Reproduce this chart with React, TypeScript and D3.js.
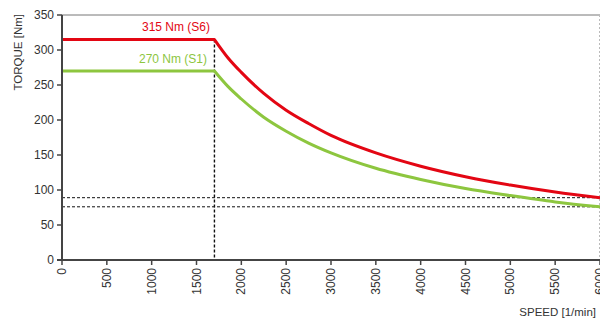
import React from "react";
import * as d3 from "d3";

// values
const speedS6 = [0, 1700, 1850, 2000, 2250, 2500, 2750, 3000, 3500, 4000, 4500, 5000, 5500, 6000];
const torqueS6 = [315, 315, 289, 268, 238, 214, 195, 178, 153, 134, 119, 107, 97, 89];
const speedS1 = [0, 1700, 1850, 2000, 2250, 2500, 2750, 3000, 3500, 4000, 4500, 5000, 5500, 6000];
const torqueS1 = [270, 270, 248, 230, 204, 184, 167, 153, 131, 115, 102, 92, 83, 76];
const xTicks = [0, 500, 1000, 1500, 2000, 2500, 3000, 3500, 4000, 4500, 5000, 5500, 6000];
const yTicks = [0, 50, 100, 150, 200, 250, 300, 350];
const cornerSpeed = 1700;
const refLevels = [89, 76];

const W = 600;
const H = 318;
const m = { left: 62, right: 0, top: 15, bottom: 58 };

export default function App() {
  const x = d3.scaleLinear().domain([0, 6000]).range([m.left, W - m.right]);
  const y = d3.scaleLinear().domain([0, 350]).range([H - m.bottom, m.top]);

  const flat = d3
    .line<[number, number]>()
    .x((d) => x(d[0]))
    .y((d) => y(d[1]));
  const curve = d3
    .line<[number, number]>()
    .x((d) => x(d[0]))
    .y((d) => y(d[1]))
    .curve(d3.curveMonotoneX);

  const toPath = (sp: number[], tq: number[]) => {
    const pts = sp.map((s, i) => [s, tq[i]] as [number, number]);
    const k = sp.indexOf(cornerSpeed);
    return (flat(pts.slice(0, k + 1)) || "") + (curve(pts.slice(k)) || "").replace(/^M/, "L");
  };

  const font = "Liberation Sans, Arial, sans-serif";

  return (
    <svg
      width={W}
      height={H}
      style={{ position: "absolute", left: 0, top: 0, background: "#fff" }}
      fontFamily={font}
    >
      {/* frame */}
      <line x1={x(0)} x2={x(6000)} y1={y(350)} y2={y(350)} stroke="#777" strokeWidth={1} />
      <line x1={x(6000) - 0.5} x2={x(6000) - 0.5} y1={y(350)} y2={y(0)} stroke="#bbb" strokeWidth={1} strokeDasharray="2,2" />

      {/* reference dashed lines */}
      {refLevels.map((v) => (
        <line key={v} x1={x(0)} x2={x(6000)} y1={y(v)} y2={y(v)} stroke="#111" strokeWidth={1} strokeDasharray="3,2" />
      ))}
      <line x1={x(cornerSpeed)} x2={x(cornerSpeed)} y1={y(torqueS6[1])} y2={y(0)} stroke="#111" strokeWidth={1.4} strokeDasharray="3,2" />

      {/* curves */}
      <path d={toPath(speedS1, torqueS1)} fill="none" stroke="#8dc63f" strokeWidth={3} strokeLinejoin="round" />
      <path d={toPath(speedS6, torqueS6)} fill="none" stroke="#e30613" strokeWidth={3} strokeLinejoin="round" />

      <text x={210} y={31} textAnchor="end" fontSize={12} fill="#e30613">315 Nm (S6)</text>
      <text x={207} y={63} textAnchor="end" fontSize={12} fill="#8dc63f">270 Nm (S1)</text>

      {/* y axis */}
      <line x1={x(0)} x2={x(0)} y1={y(350)} y2={y(0) + 1} stroke="#444" strokeWidth={2} />
      {yTicks.map((t) => (
        <g key={t}>
          <line x1={x(0) - 5} x2={x(0)} y1={y(t)} y2={y(t)} stroke="#444" strokeWidth={1.5} />
          <text x={x(0) - 8} y={y(t) + 4} textAnchor="end" fontSize={12} fill="#333">{t}</text>
        </g>
      ))}

      {/* x axis */}
      <line x1={x(0) - 5} x2={x(6000)} y1={y(0)} y2={y(0)} stroke="#444" strokeWidth={2} />
      {xTicks.map((t) => (
        <g key={t}>
          <line x1={x(t)} x2={x(t)} y1={y(0)} y2={y(0) + 5} stroke="#444" strokeWidth={1.5} />
          <text
            transform={`translate(${x(t) + 4},${y(0) + 8}) rotate(-90)`}
            textAnchor="end"
            fontSize={12}
            fill="#333"
          >
            {t}
          </text>
        </g>
      ))}

      <text transform="translate(22,14) rotate(-90)" textAnchor="end" fontSize={11.5} fill="#333">TORQUE [Nm]</text>
      <text x={596} y={316} textAnchor="end" fontSize={11.5} fill="#333">SPEED [1/min]</text>
    </svg>
  );
}
